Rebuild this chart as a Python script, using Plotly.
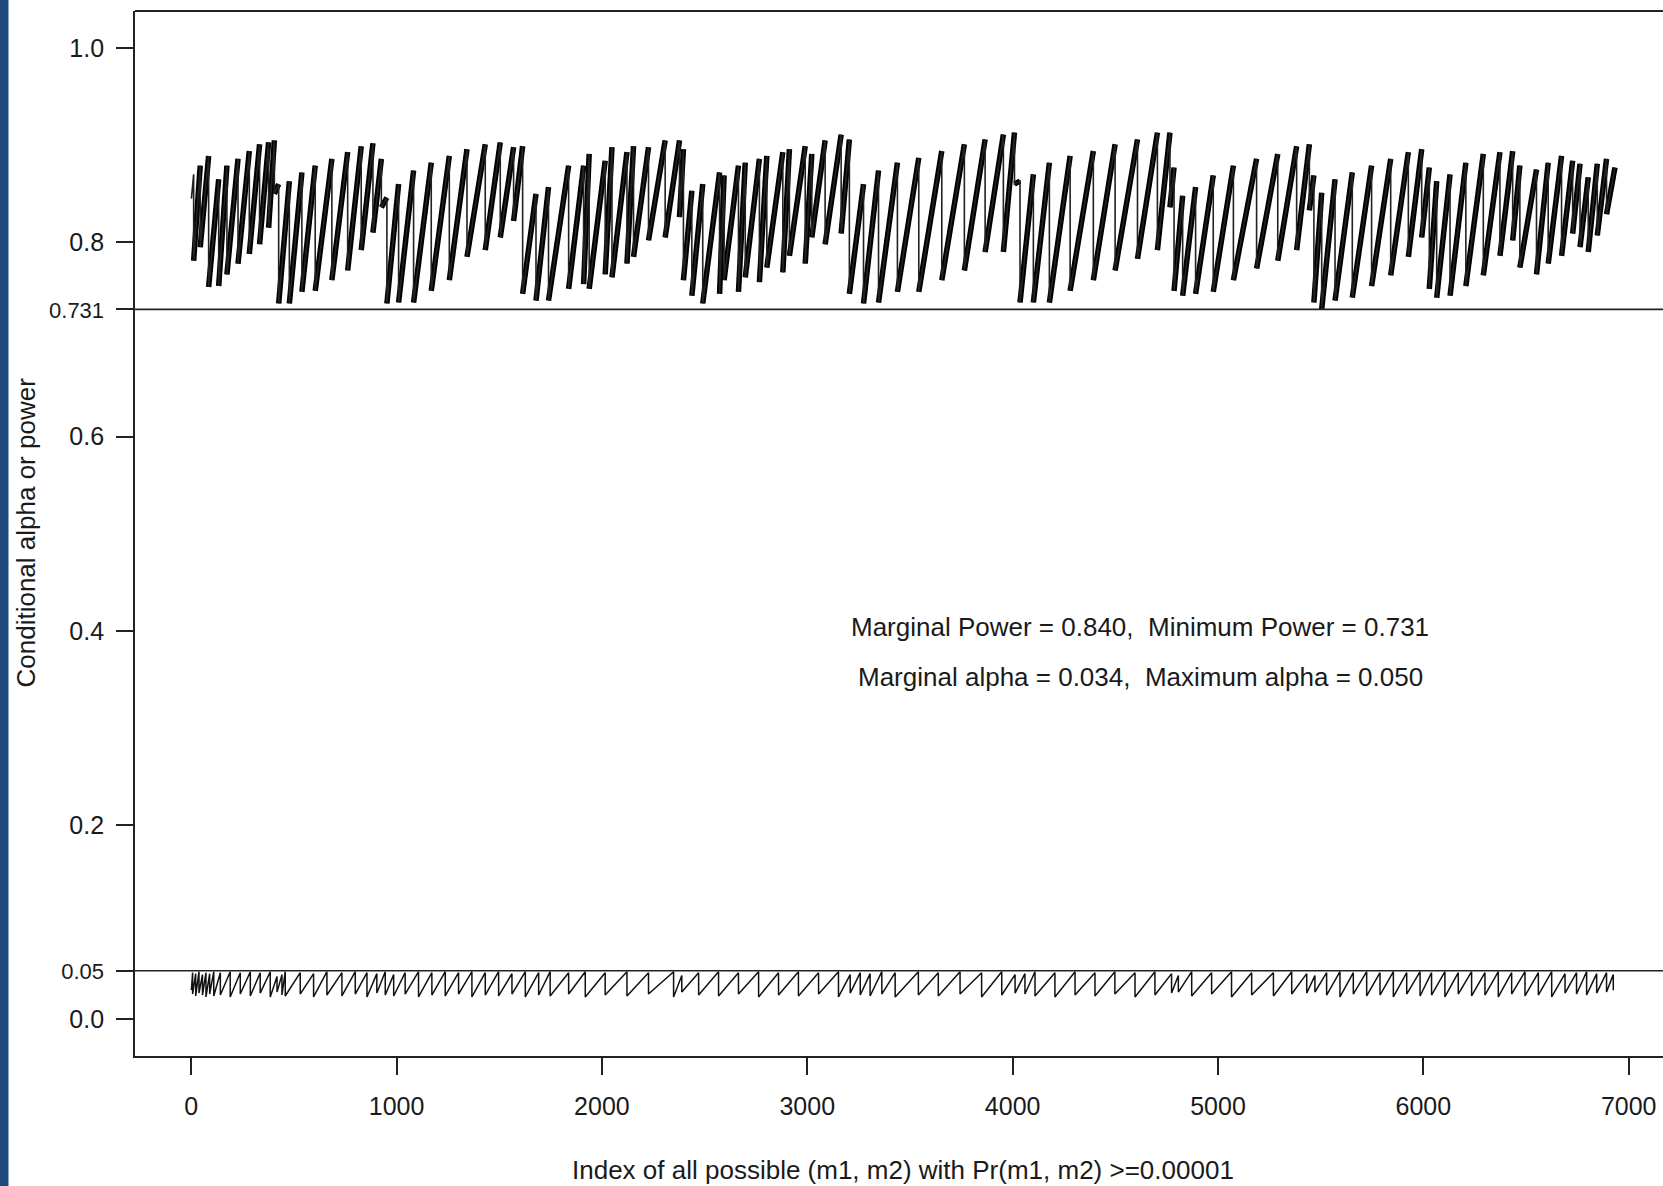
import plotly.graph_objects as go

# ---------------- data ----------------
# Conditional power: sawtooth, each tooth = rise to a peak, then a sharp drop at the same index
power_start_x = 1
power_start_y = 0.845
power_drop_x = [12, 44, 85, 134, 174, 228, 283, 333, 377, 405, 426,
                478, 539, 604, 685, 762, 828, 885, 926, 953,
                1010, 1083, 1169, 1257, 1343, 1432, 1505, 1570, 1614,
                1679, 1740, 1838, 1911, 1938, 2016, 2049, 2122, 2154, 2227, 2308, 2378, 2397,
                2438, 2491, 2573, 2595, 2665, 2698, 2767, 2803, 2881, 2913, 2990, 3022, 3087, 3165, 3205,
                3274, 3347, 3439, 3543, 3655, 3765, 3866, 3955, 4009, 4036,
                4101, 4179, 4280, 4393, 4499, 4608, 4705, 4766, 4786,
                4828, 4891, 4977, 5075, 5188, 5291, 5383, 5445, 5467,
                5505, 5570, 5654, 5748, 5841, 5927, 5992, 6029,
                6065, 6130, 6207, 6292, 6373, 6435, 6470, 6551, 6608, 6673, 6727, 6763, 6803, 6847, 6892]
power_peak = [0.870, 0.879, 0.889, 0.865, 0.879, 0.886, 0.894, 0.901, 0.903, 0.905, 0.860,
              0.863, 0.872, 0.879, 0.886, 0.893, 0.899, 0.902, 0.886, 0.846,
              0.860, 0.874, 0.882, 0.889, 0.896, 0.901, 0.903, 0.898, 0.899,
              0.850, 0.857, 0.879, 0.879, 0.891, 0.884, 0.898, 0.893, 0.899, 0.898, 0.905, 0.905, 0.896,
              0.853, 0.860, 0.872, 0.869, 0.879, 0.882, 0.886, 0.889, 0.893, 0.896, 0.899, 0.891, 0.905, 0.911, 0.906,
              0.860, 0.874, 0.882, 0.887, 0.894, 0.901, 0.906, 0.911, 0.913, 0.863,
              0.870, 0.882, 0.889, 0.894, 0.901, 0.906, 0.913, 0.913, 0.877,
              0.848, 0.857, 0.869, 0.879, 0.886, 0.891, 0.899, 0.901, 0.869,
              0.851, 0.865, 0.872, 0.879, 0.886, 0.893, 0.896, 0.877,
              0.863, 0.870, 0.882, 0.891, 0.893, 0.894, 0.879, 0.875, 0.882, 0.889, 0.884, 0.881, 0.867, 0.881, 0.886]
power_trough = [0.781, 0.795, 0.754, 0.755, 0.767, 0.778, 0.788, 0.798, 0.815, 0.850, 0.737,
                0.737, 0.749, 0.750, 0.761, 0.771, 0.792, 0.810, 0.836, 0.737,
                0.738, 0.738, 0.750, 0.761, 0.785, 0.792, 0.805, 0.822, 0.747,
                0.740, 0.740, 0.752, 0.757, 0.752, 0.767, 0.764, 0.778, 0.785, 0.802, 0.805, 0.826, 0.761,
                0.745, 0.737, 0.747, 0.761, 0.749, 0.764, 0.759, 0.774, 0.769, 0.786, 0.778, 0.805, 0.798, 0.809, 0.747,
                0.737, 0.738, 0.749, 0.749, 0.761, 0.771, 0.790, 0.790, 0.860, 0.738,
                0.738, 0.738, 0.750, 0.761, 0.771, 0.783, 0.792, 0.836, 0.750,
                0.745, 0.747, 0.749, 0.761, 0.773, 0.781, 0.792, 0.833, 0.738,
                0.731, 0.740, 0.743, 0.755, 0.766, 0.785, 0.805, 0.752,
                0.743, 0.745, 0.755, 0.766, 0.786, 0.802, 0.774, 0.767, 0.778, 0.786, 0.809, 0.795, 0.790, 0.807, 0.829]
power_end_x = 6933
power_end_y = 0.877

# Conditional alpha: sawtooth near the 0.05 line
alpha_start_x = 1
alpha_start_y = 0.030
alpha_drop_x = [7, 22, 38, 55, 72, 90, 110, 142, 190, 239, 288, 336, 385, 418, 442, 458, 531, 596, 661, 734,
                799, 856, 904, 945, 986, 1042, 1107, 1172, 1237, 1302, 1367, 1432, 1497, 1562, 1627, 1692,
                1748, 1838, 1919, 2016, 2122, 2227, 2349, 2389, 2471, 2568, 2665, 2763, 2860, 2957, 3055,
                3152, 3209, 3258, 3306, 3363, 3428,
                3541, 3638, 3744, 3849, 3947, 4012, 4060, 4109, 4206, 4304, 4401, 4498, 4596, 4693, 4774,
                4807, 4872, 4969, 5066, 5164,
                5270, 5359, 5432, 5472, 5529, 5594, 5659, 5724, 5789, 5854, 5919, 5984, 6040, 6105, 6170,
                6235, 6300, 6365, 6430, 6495, 6560, 6625, 6690, 6746, 6795, 6844, 6892, 6925]
alpha_high = [0.048, 0.047, 0.049, 0.046, 0.048, 0.047, 0.049, 0.048, 0.049, 0.048, 0.049, 0.048, 0.049, 0.044,
              0.046, 0.049, 0.048, 0.047, 0.049, 0.048, 0.049, 0.048, 0.047, 0.049, 0.046, 0.048, 0.049, 0.048,
              0.049, 0.048, 0.049, 0.048, 0.049, 0.047, 0.049, 0.048,
              0.049, 0.048, 0.049, 0.048, 0.049, 0.048, 0.049, 0.045, 0.048, 0.049, 0.048, 0.049, 0.048, 0.049,
              0.048, 0.049, 0.046, 0.048, 0.047, 0.049, 0.048,
              0.049, 0.048, 0.049, 0.048, 0.049, 0.046, 0.047, 0.049, 0.048, 0.049, 0.048, 0.049, 0.048, 0.049,
              0.047, 0.045, 0.049, 0.048, 0.049, 0.048,
              0.048, 0.049, 0.047, 0.045, 0.048, 0.049, 0.048, 0.049, 0.048, 0.049, 0.048, 0.049, 0.048, 0.049,
              0.048, 0.049, 0.048, 0.049, 0.048, 0.049, 0.048, 0.049, 0.047, 0.048, 0.049, 0.047, 0.048, 0.046]
alpha_low = [0.026, 0.024, 0.027, 0.025, 0.023, 0.026, 0.024, 0.025, 0.023, 0.026, 0.024, 0.027, 0.023, 0.028,
             0.025, 0.024, 0.026, 0.023, 0.025, 0.024, 0.026, 0.023, 0.027, 0.025, 0.024, 0.026, 0.023, 0.025,
             0.024, 0.026, 0.023, 0.025, 0.024, 0.026, 0.023, 0.025,
             0.024, 0.026, 0.023, 0.025, 0.024, 0.026, 0.023, 0.028, 0.025, 0.024, 0.026, 0.023, 0.025, 0.024,
             0.026, 0.023, 0.027, 0.025, 0.024, 0.026, 0.023,
             0.025, 0.024, 0.026, 0.023, 0.025, 0.027, 0.026, 0.024, 0.023, 0.025, 0.024, 0.026, 0.023, 0.025,
             0.027, 0.028, 0.024, 0.026, 0.023, 0.025,
             0.024, 0.026, 0.027, 0.028, 0.025, 0.023, 0.026, 0.024, 0.025, 0.023, 0.026, 0.024, 0.025, 0.023,
             0.026, 0.024, 0.025, 0.023, 0.026, 0.024, 0.025, 0.023, 0.027, 0.026, 0.025, 0.027, 0.028, 0.030]

min_power = 0.731
max_alpha = 0.050
x_ticks = [0, 1000, 2000, 3000, 4000, 5000, 6000, 7000]
y_ticks = [0.0, 0.05, 0.2, 0.4, 0.6, 0.731, 0.8, 1.0]
y_ticklabels = ["0.0", "0.05", "0.2", "0.4", "0.6", "0.731", "0.8", "1.0"]
small_labels = {"0.05", "0.731"}
note_lines = ["Marginal Power = 0.840,&nbsp; Minimum Power = 0.731",
              "Marginal alpha = 0.034,&nbsp; Maximum alpha = 0.050"]
x_title = "Index of all possible (m1, m2) with Pr(m1, m2) >=0.00001"
y_title = "Conditional alpha or power"

# ---------------- build polylines ----------------
def sawtooth(sx, sy, xs, highs, lows, ex=None, ey=None):
    px, py = [sx], [sy]
    for x, h, l in zip(xs, highs, lows):
        px += [x, x]
        py += [h, l]
    if ex is not None:
        px.append(ex)
        py.append(ey)
    return px, py

def rises(xs, highs, lows, ex=None, ey=None):
    rx, ry = [], []
    n = min(len(xs), len(highs), len(lows))
    for i in range(n):
        if i + 1 < n:
            nx, ny = xs[i + 1], highs[i + 1]
        elif ex is not None:
            nx, ny = ex, ey
        else:
            break
        rx += [xs[i], nx, None]
        ry += [lows[i], ny, None]
    return rx, ry

pwx, pwy = sawtooth(power_start_x, power_start_y, power_drop_x, power_peak, power_trough,
                    power_end_x, power_end_y)
prx, pry = rises(power_drop_x, power_peak, power_trough, power_end_x, power_end_y)
alx, aly = sawtooth(alpha_start_x, alpha_start_y, alpha_drop_x, alpha_high, alpha_low)

FONT = "Liberation Sans, Arial, Helvetica, sans-serif"
INK = "#1a1a1a"

fig = go.Figure()
fig.add_trace(go.Scatter(x=prx, y=pry, mode="lines", line=dict(color="black", width=5.5),
                         hoverinfo="skip", showlegend=False))
fig.add_trace(go.Scatter(x=pwx, y=pwy, mode="lines", line=dict(color="#222", width=1.6),
                         showlegend=False))
fig.add_trace(go.Scatter(x=alx, y=aly, mode="lines", line=dict(color="#111", width=1.5),
                         showlegend=False))

W, H = 1663, 1186
L, T, B = 135, 11, 130
plot_w = W - L
plot_h = H - T - B

ticktext = [f"<span style='font-size:22px'>{t}</span>" if t in small_labels else t
            for t in y_ticklabels]

fig.update_layout(
    width=W, height=H,
    margin=dict(l=L, r=0, t=T, b=B, autoexpand=False),
    paper_bgcolor="white", plot_bgcolor="white",
    font=dict(family=FONT, size=25, color=INK),
    xaxis=dict(range=[-273.6, 7167], tickvals=x_ticks, ticktext=[str(v) for v in x_ticks],
               showgrid=False, zeroline=False, showline=True, linecolor="#222", linewidth=1.8,
               ticks="outside", ticklen=17, tickwidth=1.5, tickcolor="#222",
               tickfont=dict(size=25, family=FONT, color=INK), ticklabelstandoff=10),
    yaxis=dict(range=[-0.0378, 1.0382], tickvals=y_ticks, ticktext=ticktext,
               showgrid=False, zeroline=False, showline=True, linecolor="#222", linewidth=1.8,
               ticks="outside", ticklen=17, tickwidth=1.5, tickcolor="#222",
               tickfont=dict(size=25, family=FONT, color=INK), ticklabelstandoff=7),
    showlegend=False,
)

shapes = [
    # top border
    dict(type="line", xref="paper", yref="paper", x0=0, x1=1, y0=1, y1=1,
         line=dict(color="#222", width=1.8)),
    # reference lines
    dict(type="line", xref="paper", yref="y", x0=0, x1=1, y0=min_power, y1=min_power,
         line=dict(color="#222", width=1.6)),
    dict(type="line", xref="paper", yref="y", x0=0, x1=1, y0=max_alpha, y1=max_alpha,
         line=dict(color="#222", width=1.6)),
    # dark blue strip at the left edge of the page
    dict(type="rect", xref="paper", yref="paper",
         x0=(0 - L) / plot_w, x1=(8.5 - L) / plot_w,
         y0=-(B + 5) / plot_h, y1=(plot_h + T + 5) / plot_h,
         line=dict(width=0), fillcolor="#1f497d", layer="above"),
]
fig.update_layout(shapes=shapes)

annotations = [
    dict(x=4621, y=0.4036, xref="x", yref="y", text=note_lines[0], showarrow=False,
         font=dict(size=26, family=FONT, color=INK), xanchor="center", yanchor="middle"),
    dict(x=4621, y=0.352, xref="x", yref="y", text=note_lines[1], showarrow=False,
         font=dict(size=26, family=FONT, color=INK), xanchor="center", yanchor="middle"),
    dict(x=(903 - L) / plot_w, y=(H - B - 1170) / plot_h, xref="paper", yref="paper",
         text=x_title, showarrow=False, font=dict(size=26, family=FONT, color=INK),
         xanchor="center", yanchor="middle"),
    dict(x=(25.5 - L) / plot_w, y=(H - B - 533) / plot_h, xref="paper", yref="paper",
         text=y_title, showarrow=False, textangle=-90, font=dict(size=26, family=FONT, color=INK),
         xanchor="center", yanchor="middle"),
]
fig.update_layout(annotations=annotations)

fig.write_html("out.html",
               config={"displayModeBar": False},
               post_script="document.body.style.margin='0px';document.body.style.overflow='hidden';")
